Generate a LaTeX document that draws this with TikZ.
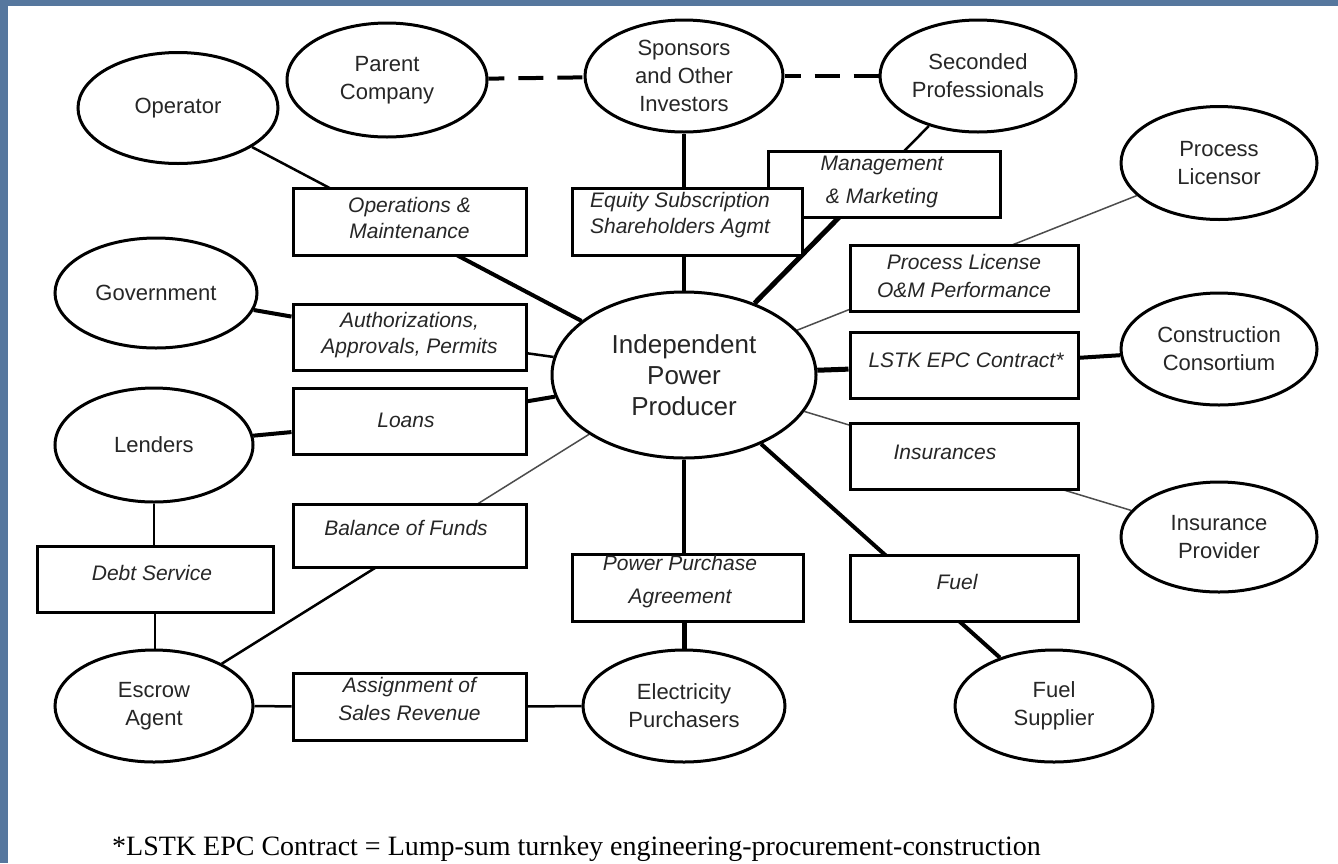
\documentclass[tikz,border=0pt]{standalone}
\usepackage{fontspec}
\setmainfont{Liberation Serif}
\newfontfamily\diagfont{Liberation Sans}
\usetikzlibrary{shapes.geometric,calc}
\pgfdeclarelayer{panel}
\pgfdeclarelayer{links}
\pgfsetlayers{panel,links,main}
\definecolor{slate}{HTML}{56779E}

\begin{document}
\begin{tikzpicture}[x=1pt,y=-1pt,
  party/.style={ellipse, draw, line width=3pt, fill=white, inner sep=0pt, align=center,
    font=\diagfont\fontsize{22}{28}\selectfont, text=black!85},
  deal/.style={rectangle, draw, line width=3pt, fill=white, inner sep=0pt},
  dealtext/.style={align=center, inner sep=0pt,
    font=\diagfont\itshape\fontsize{21}{26}\selectfont, text=black!85},
  widetext/.style={dealtext, font=\diagfont\itshape\fontsize{21}{33}\selectfont},
  heavy/.style={line width=4pt},
  bold/.style={line width=5pt},
  medium/.style={line width=2.5pt},
  light/.style={line width=1.5pt, draw=black!70},
  tie/.style={line width=4pt, dash pattern=on 25pt off 14pt, dash phase=9pt},
]
\useasboundingbox (0,0) rectangle (1338,863);

% page frame
\begin{pgfonlayer}{panel}
  \fill[slate] (0,0) rectangle (1338,863);
  \fill[white] (8,6) rectangle (1338,863);
\end{pgfonlayer}

% parties
\node[party, minimum width=200pt, minimum height=111pt] (op) at (178,108) {Operator};
\node[party, minimum width=200pt, minimum height=114pt] (parent) at (387,80) {Parent\\Company};
\node[party, minimum width=198pt, minimum height=112pt] (spons) at (684,76) {Sponsors\\and Other\\Investors};
\node[party, minimum width=196pt, minimum height=112pt] (second) at (978,76) {Seconded\\Professionals};
\node[party, minimum width=196pt, minimum height=113pt] (licensor) at (1219,163) {Process\\Licensor};
\node[party, minimum width=202pt, minimum height=110pt] (gov) at (156,293) {Government};
\node[party, minimum width=198pt, minimum height=114pt] (lenders) at (154,445) {Lenders};
\node[party, minimum width=264pt, minimum height=166pt,
      font=\diagfont\fontsize{26}{31}\selectfont] (ipp) at (684,375) {Independent\\Power\\Producer};
\node[party, minimum width=196pt, minimum height=112pt] (consort) at (1219,349) {Construction\\Consortium};
\node[party, minimum width=196pt, minimum height=110pt] (insprov) at (1219,537) {Insurance\\Provider};
\node[party, minimum width=198pt, minimum height=112pt] (escrow) at (154,706) {Escrow\\Agent};
\node[party, minimum width=202pt, minimum height=112pt] (elec) at (684,706) {Electricity\\Purchasers};
\node[party, minimum width=198pt, minimum height=112pt] (fuelsup) at (1054,706) {Fuel\\Supplier};

% agreements
\node[deal, minimum width=233pt, minimum height=67pt] (om) at (409.5,221.5) {};
\node[deal, minimum width=232pt, minimum height=66pt] (mm) at (884,184) {};
\node[deal, minimum width=230pt, minimum height=67pt] (eq) at (687,221.5) {};
\node[deal, minimum width=228pt, minimum height=66pt] (pl) at (964,278) {};
\node[deal, minimum width=228pt, minimum height=66pt] (lstk) at (964,365) {};
\node[deal, minimum width=228pt, minimum height=66pt] (ins) at (964,456) {};
\node[deal, minimum width=228pt, minimum height=66pt] (fuel) at (964,588) {};
\node[deal, minimum width=233pt, minimum height=66pt] (auth) at (409.5,337) {};
\node[deal, minimum width=233pt, minimum height=66pt] (loans) at (409.5,421) {};
\node[deal, minimum width=233pt, minimum height=63pt] (bof) at (409.5,535.5) {};
\node[deal, minimum width=236pt, minimum height=66pt] (debt) at (155,579) {};
\node[deal, minimum width=231pt, minimum height=67pt] (ppa) at (687.5,587.5) {};
\node[deal, minimum width=233pt, minimum height=67pt] (asr) at (409.5,706.5) {};

\node[dealtext] (om-t) at (409.5,217.5) {Operations \&\\Maintenance};
\node[widetext] (mm-t) at (882,181.5) {Management\\\& Marketing};
\node[dealtext] (eq-t) at (680,215.5) {Equity Subscription\\Shareholders Agmt};
\node[dealtext, font=\diagfont\itshape\fontsize{21}{28}\selectfont] (pl-t) at (964,276) {Process License\\O\&M Performance};
\node[dealtext] (lstk-t) at (966,360) {LSTK EPC Contract*};
\node[dealtext] (ins-t) at (945,452) {Insurances};
\node[dealtext] (fuel-t) at (957,582) {Fuel};
\node[dealtext] (auth-t) at (409.5,335.5) {Authorizations,\\Approvals, Permits};
\node[dealtext] (loans-t) at (406,420) {Loans};
\node[dealtext] (bof-t) at (406,528) {Balance of Funds};
\node[dealtext] (debt-t) at (152,573) {Debt Service};
\node[widetext] (ppa-t) at (680,581.5) {Power Purchase\\Agreement};
\node[dealtext, font=\diagfont\itshape\fontsize{21}{28}\selectfont] (asr-t) at (409.5,699) {Assignment of\\Sales Revenue};

% points where a link changes weight, hidden under an agreement box
\coordinate (om-mid) at ($(op.center)!0.46!(ipp.center)$);
\coordinate (mm-mid) at ($(second.center)!0.36!(ipp.center)$);
\coordinate (bof-mid) at ($(escrow.center)!0.48!(ipp.center)$);

% links
\begin{pgfonlayer}{links}
  \draw[tie] (parent) -- (spons);
  \draw[tie] (spons) -- (second);
  \draw[heavy] (spons.south) -- (spons.south |- eq.north);
  \draw[heavy] (ipp.north) -- (ipp.north |- eq.south);
  \draw[medium] (op) -- (ipp);
  \draw[heavy] (om-mid) -- (ipp);
  \draw[medium] (second) -- (ipp);
  \draw[bold] (mm-mid) -- (ipp);
  \draw[heavy] (gov) -- (auth);
  \draw[medium] (auth) -- (ipp);
  \draw[heavy] (lenders) -- (loans);
  \draw[heavy] (loans) -- (ipp);
  \draw[medium] (lenders.south) -- (lenders.south |- debt.north);
  \draw[medium] (debt.south) -- (debt.south |- escrow.north);
  \draw[light] (escrow) -- (ipp);
  \draw[medium] (escrow) -- (bof-mid);
  \draw[medium] (escrow) -- (asr);
  \draw[medium] (asr) -- (elec);
  \draw[heavy] (ipp.south) -- (ipp.south |- ppa.north);
  \draw[bold] (elec.north) -- (elec.north |- ppa.south);
  \draw[heavy] (ipp) -- (fuelsup);
  \draw[light] (ipp) -- (licensor);
  \draw[light] (ipp) -- (insprov);
  \draw[bold] (ipp) -- (lstk);
  \draw[heavy] (lstk) -- (consort);
\end{pgfonlayer}

% footnote
\node[anchor=base west, inner sep=0pt, font=\fontsize{28}{32}\selectfont] (note) at (112,855)
  {*LSTK EPC Contract = Lump-sum turnkey engineering-procurement-construction};
\end{tikzpicture}
\end{document}
